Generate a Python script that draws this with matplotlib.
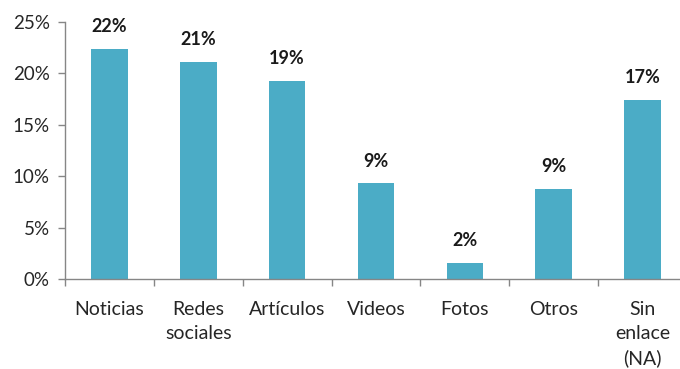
import numpy as np
import matplotlib.pyplot as plt
from matplotlib.ticker import FixedLocator, PercentFormatter

categorias = ["Noticias", "Redes\nsociales", "Artículos", "Videos", "Fotos", "Otros", "Sin\nenlace\n(NA)"]
porcentajes = [22.4, 21.1, 19.3, 9.3, 1.6, 8.8, 17.4]
yticks = [0, 5, 10, 15, 20, 25]

plt.rcParams["font.family"] = ["Lato", "DejaVu Sans"]

fig = plt.figure(figsize=(6.8, 3.69), dpi=100)
ax = fig.add_axes([65 / 680, 90 / 369, 622 / 680, 257 / 369])

x = np.arange(len(categorias))
bars = ax.bar(x, porcentajes, width=0.41, color="#4BACC6")

for xi, v in zip(x, porcentajes):
    ax.annotate(f"{v:.0f}%", (xi, v), xytext=(0, 10), textcoords="offset points",
                ha="center", va="bottom", fontsize=13, fontweight="bold", color="#1a1a1a")

ax.set_xlim(-0.5, len(categorias) - 0.5)
ax.set_ylim(0, 25)
ax.set_yticks(yticks)
ax.yaxis.set_major_formatter(PercentFormatter(decimals=0))

# category labels at the bar centres, tick marks between categories
ax.xaxis.set_major_locator(FixedLocator(np.arange(-0.5, len(categorias), 1.0)))
ax.xaxis.set_major_formatter(plt.NullFormatter())
ax.set_xticks(x, minor=True)
ax.set_xticklabels(categorias, minor=True, fontsize=14, color="#262626", linespacing=1.5)
ax.tick_params(axis="x", which="minor", length=0, pad=16)
ax.tick_params(axis="x", which="major", length=5, color="#868686", width=1)
ax.tick_params(axis="y", length=5, color="#868686", width=1, labelsize=13.5, labelcolor="#262626", pad=6)

for s in ["top", "right"]:
    ax.spines[s].set_visible(False)
for s in ["left", "bottom"]:
    ax.spines[s].set_color("#868686")
    ax.spines[s].set_linewidth(1)

fig.savefig("out.png", dpi=100)
